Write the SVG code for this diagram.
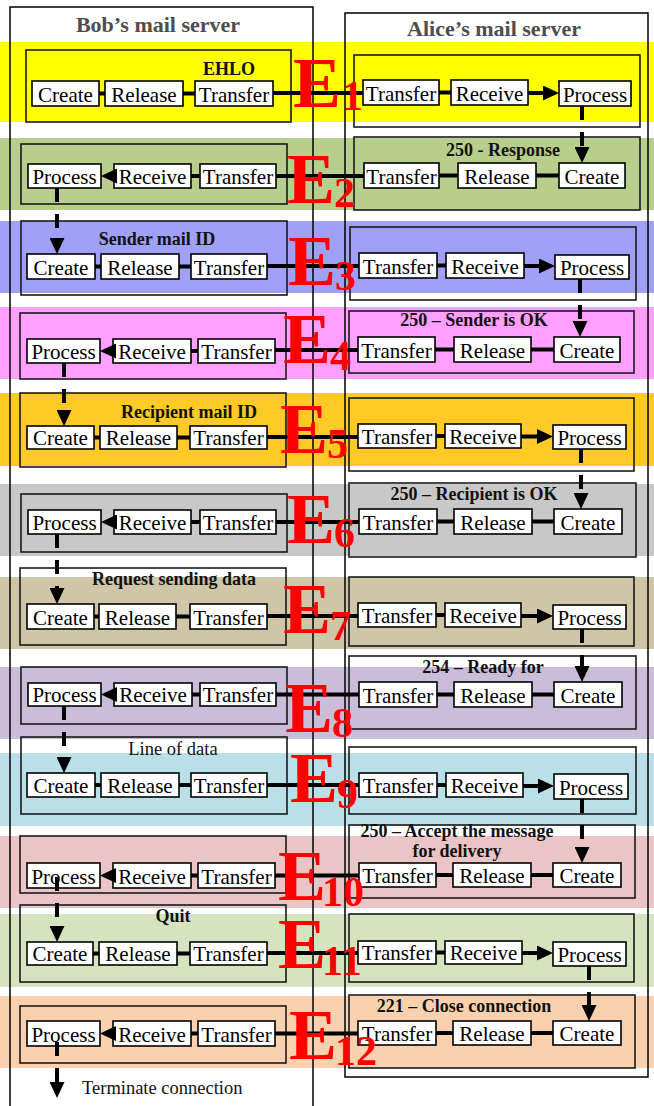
<svg xmlns="http://www.w3.org/2000/svg" width="654" height="1106" viewBox="0 0 654 1106">
<style>
.frame{fill:none;stroke:#000;stroke-width:1.5}
.title{font-family:"Liberation Serif",serif;font-weight:bold;font-size:22px;fill:#4d4d4d;text-anchor:middle}
.box{fill:none;stroke:#1a1a1a;stroke-width:1.6}
.lbl{font-family:"Liberation Serif",serif;font-weight:bold;font-size:18px;fill:#111;text-anchor:middle}
.lblr{font-family:"Liberation Serif",serif;font-size:18.5px;fill:#111;text-anchor:middle}
.node rect{fill:#fff;stroke:#000;stroke-width:1.6}
.node text{font-family:"Liberation Serif",serif;font-size:21px;fill:#000;text-anchor:middle}
.link{stroke:#000;stroke-width:4;fill:none}
.arr{stroke:#000;stroke-width:4;fill:none;marker-end:url(#ah)}
.flow{stroke:#000;stroke-width:4;fill:none;stroke-dasharray:14 12;marker-end:url(#ah)}
.E{font-family:"Liberation Serif",serif;font-weight:bold;font-size:72px;fill:#ff0000}
.sub{font-family:"Liberation Serif",serif;font-weight:bold;font-size:42px;fill:#ff0000}
.note{font-family:"Liberation Serif",serif;font-size:18.5px;fill:#111}
</style>
<defs>
<marker id="ah" markerUnits="userSpaceOnUse" markerWidth="16" markerHeight="15" viewBox="0 0 16 15" refX="8" refY="7.5" orient="auto">
<path d="M0,0 L16,7.5 L0,15 Z" fill="#000"/>
</marker>
</defs>
<rect width="654" height="1106" fill="#fff"/>
<g id="bands">
<rect x="0" y="42" width="654" height="80" fill="#ffff00"/>
<rect x="0" y="138" width="654" height="72" fill="#b8ce8c"/>
<rect x="0" y="221" width="654" height="72" fill="#a0a0f6"/>
<rect x="0" y="307" width="654" height="72" fill="#ffa0ff"/>
<rect x="0" y="393" width="654" height="73" fill="#ffc926"/>
<rect x="0" y="484" width="654" height="72" fill="#c8c8c8"/>
<rect x="0" y="577" width="654" height="72" fill="#cec6a6"/>
<rect x="0" y="667" width="654" height="72" fill="#c9bdd9"/>
<rect x="0" y="753" width="654" height="73" fill="#b8e0e6"/>
<rect x="0" y="836" width="654" height="72" fill="#ebc5c5"/>
<rect x="0" y="914" width="654" height="73" fill="#d5e3bf"/>
<rect x="0" y="996" width="654" height="72" fill="#f9d1af"/>
</g>
<g id="bob-server">
<rect class="frame" x="10" y="7" width="303" height="1110"/>
<text class="title" x="158" y="32">Bob’s mail server</text>
</g>
<g id="alice-server">
<rect class="frame" x="345" y="13" width="303" height="1064"/>
<text class="title" x="494" y="36">Alice’s mail server</text>
</g>
<g id="step-boxes">
<g id="s1-bob"><rect class="box" x="26" y="50" width="265" height="72"/><text class="lbl" x="229" y="75">EHLO</text></g>
<g id="s1-alice"><rect class="box" x="354" y="55" width="286" height="72"/></g>
<g id="s2-alice"><rect class="box" x="354" y="137" width="286" height="73"/><text class="lbl" x="503" y="156">250 - Response</text></g>
<g id="s2-bob"><rect class="box" x="21" y="144" width="266" height="60"/></g>
<g id="s3-bob"><rect class="box" x="21" y="221" width="266" height="74"/><text class="lbl" x="157" y="245">Sender mail ID</text></g>
<g id="s3-alice"><rect class="box" x="350" y="227" width="286" height="73"/></g>
<g id="s4-alice"><rect class="box" x="349" y="311" width="285" height="62"/><text class="lbl" x="474" y="326">250 – Sender is OK</text></g>
<g id="s4-bob"><rect class="box" x="20" y="313" width="266" height="66"/></g>
<g id="s5-bob"><rect class="box" x="20" y="393" width="266" height="74"/><text class="lbl" x="189" y="418">Recipient mail ID</text></g>
<g id="s5-alice"><rect class="box" x="349" y="398" width="285" height="73"/></g>
<g id="s6-alice"><rect class="box" x="349" y="483" width="287" height="74"/><text class="lbl" x="474" y="500">250 – Recipient is OK</text></g>
<g id="s6-bob"><rect class="box" x="21" y="494" width="266" height="58"/></g>
<g id="s7-bob"><rect class="box" x="20" y="568" width="266" height="77"/><text class="lbl" x="174" y="585">Request sending data</text></g>
<g id="s7-alice"><rect class="box" x="349" y="577" width="285" height="69"/></g>
<g id="s8-bob"><rect class="box" x="21" y="667" width="266" height="57"/></g>
<g id="s8-alice"><rect class="box" x="349" y="656" width="287" height="73"/><text class="lbl" x="483" y="673">254 – Ready for</text></g>
<g id="s9-bob"><rect class="box" x="21" y="737" width="266" height="77"/><text class="lblr" x="173" y="755">Line of data</text></g>
<g id="s9-alice"><rect class="box" x="349" y="747" width="287" height="67"/></g>
<g id="s10-alice"><rect class="box" x="349" y="825" width="286" height="73"/><text class="lbl" x="457" y="837">250 – Accept the message</text><text class="lbl" x="457" y="857">for delivery</text></g>
<g id="s10-bob"><rect class="box" x="20" y="836" width="266" height="57"/></g>
<g id="s11-bob"><rect class="box" x="20" y="905" width="266" height="77"/><text class="lbl" x="173" y="922">Quit</text></g>
<g id="s11-alice"><rect class="box" x="349" y="914" width="285" height="68"/></g>
<g id="s12-alice"><rect class="box" x="349" y="995" width="286" height="73"/><text class="lbl" x="464" y="1012">221 – Close connection</text></g>
<g id="s12-bob"><rect class="box" x="20" y="1006" width="266" height="57"/></g>
</g>
<g id="nodes">
<g id="s1b-create" class="node"><rect x="32" y="81" width="67" height="25"/><text x="65.5" y="101.5">Create</text></g>
<g id="s1b-release" class="node"><rect x="105" y="81" width="78" height="25"/><text x="144" y="101.5">Release</text></g>
<g id="s1b-transfer" class="node"><rect x="195" y="81" width="78" height="25"/><text x="234" y="101.5">Transfer</text></g>
<g id="s1a-transfer" class="node"><rect x="363" y="80" width="76" height="25"/><text x="401" y="100.5">Transfer</text></g>
<g id="s1a-receive" class="node"><rect x="451" y="80" width="77" height="25"/><text x="489.5" y="100.5">Receive</text></g>
<g id="s1a-process" class="node"><rect x="559" y="81" width="72" height="25"/><text x="595" y="101.5">Process</text></g>

<g id="s2a-transfer" class="node"><rect x="364" y="163" width="75" height="25"/><text x="401.5" y="183.5">Transfer</text></g>
<g id="s2a-release" class="node"><rect x="458" y="163" width="78" height="25"/><text x="497" y="183.5">Release</text></g>
<g id="s2a-create" class="node"><rect x="559" y="163" width="66" height="25"/><text x="592" y="183.5">Create</text></g>
<g id="s2b-process" class="node"><rect x="28" y="164" width="73" height="24"/><text x="64.5" y="183.5">Process</text></g>
<g id="s2b-receive" class="node"><rect x="114" y="164" width="77" height="24"/><text x="152.5" y="183.5">Receive</text></g>
<g id="s2b-transfer" class="node"><rect x="200" y="164" width="76" height="24"/><text x="238" y="183.5">Transfer</text></g>

<g id="s3b-create" class="node"><rect x="27" y="254" width="68" height="25"/><text x="61" y="274.5">Create</text></g>
<g id="s3b-release" class="node"><rect x="101" y="254" width="78" height="25"/><text x="140" y="274.5">Release</text></g>
<g id="s3b-transfer" class="node"><rect x="191" y="254" width="76" height="25"/><text x="229" y="274.5">Transfer</text></g>
<g id="s3a-transfer" class="node"><rect x="359" y="253" width="78" height="25"/><text x="398" y="273.5">Transfer</text></g>
<g id="s3a-receive" class="node"><rect x="446" y="253" width="78" height="25"/><text x="485" y="273.5">Receive</text></g>
<g id="s3a-process" class="node"><rect x="555" y="255" width="74" height="24"/><text x="592" y="274.5">Process</text></g>

<g id="s4a-transfer" class="node"><rect x="358" y="337" width="77" height="25"/><text x="396.5" y="357.5">Transfer</text></g>
<g id="s4a-release" class="node"><rect x="454" y="337" width="77" height="25"/><text x="492.5" y="357.5">Release</text></g>
<g id="s4a-create" class="node"><rect x="554" y="337" width="66" height="25"/><text x="587" y="357.5">Create</text></g>
<g id="s4b-process" class="node"><rect x="27" y="339" width="73" height="24"/><text x="63.5" y="358.5">Process</text></g>
<g id="s4b-receive" class="node"><rect x="113" y="339" width="78" height="24"/><text x="152" y="358.5">Receive</text></g>
<g id="s4b-transfer" class="node"><rect x="198" y="339" width="77" height="24"/><text x="236.5" y="358.5">Transfer</text></g>

<g id="s5b-create" class="node"><rect x="27" y="426" width="67" height="23"/><text x="60.5" y="445">Create</text></g>
<g id="s5b-release" class="node"><rect x="100" y="426" width="77" height="23"/><text x="138.5" y="445">Release</text></g>
<g id="s5b-transfer" class="node"><rect x="190" y="426" width="77" height="23"/><text x="228.5" y="445">Transfer</text></g>
<g id="s5a-transfer" class="node"><rect x="358" y="424" width="78" height="24"/><text x="397" y="443.5">Transfer</text></g>
<g id="s5a-receive" class="node"><rect x="445" y="424" width="76" height="24"/><text x="483" y="443.5">Receive</text></g>
<g id="s5a-process" class="node"><rect x="553" y="425" width="73" height="24"/><text x="589.5" y="444.5">Process</text></g>

<g id="s6a-transfer" class="node"><rect x="359" y="509" width="78" height="25"/><text x="398" y="529.5">Transfer</text></g>
<g id="s6a-release" class="node"><rect x="454" y="509" width="78" height="25"/><text x="493" y="529.5">Release</text></g>
<g id="s6a-create" class="node"><rect x="554" y="509" width="68" height="25"/><text x="588" y="529.5">Create</text></g>
<g id="s6b-process" class="node"><rect x="28" y="510" width="73" height="24"/><text x="64.5" y="529.5">Process</text></g>
<g id="s6b-receive" class="node"><rect x="114" y="510" width="77" height="24"/><text x="152.5" y="529.5">Receive</text></g>
<g id="s6b-transfer" class="node"><rect x="200" y="510" width="76" height="24"/><text x="238" y="529.5">Transfer</text></g>

<g id="s7b-create" class="node"><rect x="27" y="604" width="67" height="25"/><text x="60.5" y="624.5">Create</text></g>
<g id="s7b-release" class="node"><rect x="99" y="604" width="77" height="25"/><text x="137.5" y="624.5">Release</text></g>
<g id="s7b-transfer" class="node"><rect x="190" y="604" width="77" height="25"/><text x="228.5" y="624.5">Transfer</text></g>
<g id="s7a-transfer" class="node"><rect x="358" y="603" width="78" height="24"/><text x="397" y="622.5">Transfer</text></g>
<g id="s7a-receive" class="node"><rect x="445" y="603" width="76" height="24"/><text x="483" y="622.5">Receive</text></g>
<g id="s7a-process" class="node"><rect x="553" y="605" width="73" height="24"/><text x="589.5" y="624.5">Process</text></g>

<g id="s8b-process" class="node"><rect x="28" y="683" width="73" height="23"/><text x="64.5" y="702">Process</text></g>
<g id="s8b-receive" class="node"><rect x="114" y="683" width="78" height="23"/><text x="153" y="702">Receive</text></g>
<g id="s8b-transfer" class="node"><rect x="200" y="683" width="76" height="23"/><text x="238" y="702">Transfer</text></g>
<g id="s8a-transfer" class="node"><rect x="359" y="682" width="78" height="25"/><text x="398" y="702.5">Transfer</text></g>
<g id="s8a-release" class="node"><rect x="454" y="682" width="78" height="25"/><text x="493" y="702.5">Release</text></g>
<g id="s8a-create" class="node"><rect x="554" y="682" width="68" height="25"/><text x="588" y="702.5">Create</text></g>

<g id="s9b-create" class="node"><rect x="27" y="773" width="68" height="24"/><text x="61" y="792.5">Create</text></g>
<g id="s9b-release" class="node"><rect x="101" y="773" width="78" height="24"/><text x="140" y="792.5">Release</text></g>
<g id="s9b-transfer" class="node"><rect x="191" y="773" width="76" height="24"/><text x="229" y="792.5">Transfer</text></g>
<g id="s9a-transfer" class="node"><rect x="359" y="773" width="78" height="24"/><text x="398" y="792.5">Transfer</text></g>
<g id="s9a-receive" class="node"><rect x="446" y="773" width="77" height="24"/><text x="484.5" y="792.5">Receive</text></g>
<g id="s9a-process" class="node"><rect x="554" y="774" width="74" height="25"/><text x="591" y="794.5">Process</text></g>

<g id="s10a-transfer" class="node"><rect x="359" y="863" width="77" height="24"/><text x="397.5" y="882.5">Transfer</text></g>
<g id="s10a-release" class="node"><rect x="453" y="863" width="78" height="24"/><text x="492" y="882.5">Release</text></g>
<g id="s10a-create" class="node"><rect x="553" y="863" width="68" height="24"/><text x="587" y="882.5">Create</text></g>
<g id="s10b-process" class="node"><rect x="27" y="863" width="73" height="25"/><text x="63.5" y="883.5">Process</text></g>
<g id="s10b-receive" class="node"><rect x="113" y="863" width="78" height="25"/><text x="152" y="883.5">Receive</text></g>
<g id="s10b-transfer" class="node"><rect x="198" y="863" width="77" height="25"/><text x="236.5" y="883.5">Transfer</text></g>

<g id="s11b-create" class="node"><rect x="27" y="942" width="66" height="23"/><text x="60" y="961">Create</text></g>
<g id="s11b-release" class="node"><rect x="99" y="942" width="78" height="23"/><text x="138" y="961">Release</text></g>
<g id="s11b-transfer" class="node"><rect x="190" y="942" width="77" height="23"/><text x="228.5" y="961">Transfer</text></g>
<g id="s11a-transfer" class="node"><rect x="358" y="941" width="78" height="23"/><text x="397" y="960">Transfer</text></g>
<g id="s11a-receive" class="node"><rect x="445" y="941" width="77" height="23"/><text x="483.5" y="960">Receive</text></g>
<g id="s11a-process" class="node"><rect x="553" y="942" width="73" height="24"/><text x="589.5" y="961.5">Process</text></g>

<g id="s12a-transfer" class="node"><rect x="358" y="1021" width="78" height="24"/><text x="397" y="1040.5">Transfer</text></g>
<g id="s12a-release" class="node"><rect x="453" y="1021" width="78" height="24"/><text x="492" y="1040.5">Release</text></g>
<g id="s12a-create" class="node"><rect x="553" y="1021" width="68" height="24"/><text x="587" y="1040.5">Create</text></g>
<g id="s12b-process" class="node"><rect x="27" y="1021" width="73" height="25"/><text x="63.5" y="1041.5">Process</text></g>
<g id="s12b-receive" class="node"><rect x="113" y="1021" width="78" height="25"/><text x="152" y="1041.5">Receive</text></g>
<g id="s12b-transfer" class="node"><rect x="198" y="1021" width="77" height="25"/><text x="236.5" y="1041.5">Transfer</text></g>
</g>
<g id="connectors">
<line class="link" x1="99" y1="93.5" x2="105" y2="93.5"/>
<line class="link" x1="183" y1="93.5" x2="195" y2="93.5"/>
<line class="link" x1="273" y1="93" x2="363" y2="93"/>
<line class="link" x1="439" y1="92.5" x2="451" y2="92.5"/>
<line class="arr" x1="528" y1="93" x2="551" y2="93"/>
<line class="flow" x1="582" y1="106" x2="582" y2="155"/>
<line class="link" x1="276" y1="176" x2="364" y2="176"/>
<line class="link" x1="439" y1="175.5" x2="458" y2="175.5"/>
<line class="link" x1="536" y1="175.5" x2="559" y2="175.5"/>
<line class="link" x1="191" y1="176" x2="200" y2="176"/>
<line class="arr" x1="114" y1="176" x2="109" y2="176"/>
<line class="flow" x1="57" y1="188" x2="57" y2="246"/>
<line class="link" x1="95" y1="266.5" x2="101" y2="266.5"/>
<line class="link" x1="179" y1="266.5" x2="191" y2="266.5"/>
<line class="link" x1="267" y1="266" x2="359" y2="266"/>
<line class="link" x1="437" y1="265.5" x2="446" y2="265.5"/>
<line class="arr" x1="524" y1="266" x2="547" y2="266"/>
<line class="flow" x1="580" y1="279" x2="580" y2="329"/>
<line class="link" x1="275" y1="350" x2="358" y2="350"/>
<line class="link" x1="435" y1="349.5" x2="454" y2="349.5"/>
<line class="link" x1="531" y1="349.5" x2="554" y2="349.5"/>
<line class="link" x1="191" y1="351" x2="198" y2="351"/>
<line class="arr" x1="113" y1="351" x2="108" y2="351"/>
<line class="flow" x1="64" y1="363" x2="64" y2="418"/>
<line class="link" x1="94" y1="437.5" x2="100" y2="437.5"/>
<line class="link" x1="177" y1="437.5" x2="190" y2="437.5"/>
<line class="link" x1="267" y1="437" x2="358" y2="437"/>
<line class="link" x1="436" y1="436" x2="445" y2="436"/>
<line class="arr" x1="521" y1="436.5" x2="545" y2="436.5"/>
<line class="flow" x1="581" y1="449" x2="581" y2="501"/>
<line class="link" x1="276" y1="522" x2="359" y2="522"/>
<line class="link" x1="437" y1="521.5" x2="454" y2="521.5"/>
<line class="link" x1="532" y1="521.5" x2="554" y2="521.5"/>
<line class="link" x1="191" y1="522" x2="200" y2="522"/>
<line class="arr" x1="114" y1="522" x2="109" y2="522"/>
<line class="flow" x1="57" y1="534" x2="57" y2="596"/>
<line class="link" x1="94" y1="616.5" x2="99" y2="616.5"/>
<line class="link" x1="176" y1="616.5" x2="190" y2="616.5"/>
<line class="link" x1="267" y1="616" x2="358" y2="616"/>
<line class="link" x1="436" y1="615" x2="445" y2="615"/>
<line class="arr" x1="521" y1="616" x2="545" y2="616"/>
<line class="flow" x1="582" y1="629" x2="582" y2="674"/>
<line class="link" x1="276" y1="694.5" x2="359" y2="694.5"/>
<line class="link" x1="437" y1="694.5" x2="454" y2="694.5"/>
<line class="link" x1="532" y1="694.5" x2="554" y2="694.5"/>
<line class="link" x1="192" y1="694.5" x2="200" y2="694.5"/>
<line class="arr" x1="114" y1="694.5" x2="109" y2="694.5"/>
<line class="flow" x1="64" y1="706" x2="64" y2="765"/>
<line class="link" x1="95" y1="785" x2="101" y2="785"/>
<line class="link" x1="179" y1="785" x2="191" y2="785"/>
<line class="link" x1="267" y1="785" x2="359" y2="785"/>
<line class="link" x1="437" y1="785" x2="446" y2="785"/>
<line class="arr" x1="523" y1="786" x2="546" y2="786"/>
<line class="flow" x1="582" y1="799" x2="582" y2="855"/>
<line class="link" x1="275" y1="875.5" x2="359" y2="875.5"/>
<line class="link" x1="436" y1="875" x2="453" y2="875"/>
<line class="link" x1="531" y1="875" x2="553" y2="875"/>
<line class="link" x1="191" y1="875.5" x2="198" y2="875.5"/>
<line class="arr" x1="113" y1="875.5" x2="108" y2="875.5"/>
<line class="flow" x1="57" y1="877" x2="57" y2="934"/>
<line class="link" x1="93" y1="953.5" x2="99" y2="953.5"/>
<line class="link" x1="177" y1="953.5" x2="190" y2="953.5"/>
<line class="link" x1="267" y1="953" x2="358" y2="953"/>
<line class="link" x1="436" y1="952.5" x2="445" y2="952.5"/>
<line class="arr" x1="522" y1="953" x2="545" y2="953"/>
<line class="flow" x1="589" y1="966" x2="589" y2="1013"/>
<line class="link" x1="275" y1="1033.5" x2="358" y2="1033.5"/>
<line class="link" x1="436" y1="1033" x2="453" y2="1033"/>
<line class="link" x1="531" y1="1033" x2="553" y2="1033"/>
<line class="link" x1="191" y1="1033.5" x2="198" y2="1033.5"/>
<line class="arr" x1="113" y1="1033.5" x2="108" y2="1033.5"/>
<line class="flow" x1="57" y1="1042" x2="57" y2="1090"/>
</g>
<text class="note" x="82" y="1094">Terminate connection</text>
<g id="event-labels">
<text class="E" x="293" y="107">E</text><text class="sub" x="342" y="110">1</text>
<text class="E" x="287" y="203">E</text><text class="sub" x="334" y="207">2</text>
<text class="E" x="288" y="285">E</text><text class="sub" x="335" y="290">3</text>
<text class="E" x="283" y="363">E</text><text class="sub" x="330" y="370">4</text>
<text class="E" x="280" y="453">E</text><text class="sub" x="327" y="458">5</text>
<text class="E" x="287" y="543">E</text><text class="sub" x="334" y="547">6</text>
<text class="E" x="283" y="633">E</text><text class="sub" x="330" y="640">7</text>
<text class="E" x="285" y="732">E</text><text class="sub" x="332" y="737">8</text>
<text class="E" x="290" y="802">E</text><text class="sub" x="337" y="808">9</text>
<text class="E" x="278" y="900">E</text><text class="sub" x="322" y="906">10</text>
<text class="E" x="278" y="968">E</text><text class="sub" x="322" y="975">11</text>
<text class="E" x="289" y="1059">E</text><text class="sub" x="335" y="1065">12</text>
</g>
</svg>
